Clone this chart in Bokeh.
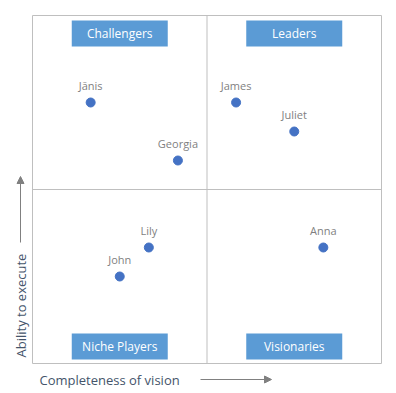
import math
from bokeh.plotting import figure
from bokeh.models import ColumnDataSource, Range1d, Arrow, NormalHead
from bokeh.core.properties import value
from bokeh.embed import file_html
from bokeh.resources import INLINE

# ---- data ----
names = ["Jānis", "James", "Juliet", "Georgia", "Lily", "John", "Anna"]
vision = [2, 7, 9, 5, 4, 3, 10]
execute = [9, 9, 8, 7, 4, 3, 4]
quadrants = ["Challengers", "Leaders", "Niche Players", "Visionaries"]
axis_max = 12
axis_mid = 6
x_title = "Completeness of vision"
y_title = "Ability to execute"

# ---- layout ----
W, H = 396, 393
fl, fr, ft, fb = 32, 381, 15, 363          # quadrant frame in canvas px
sx = (fr - fl) / axis_max
sy = (fb - ft) / axis_max
x0 = -fl / sx
x1 = axis_max + (W - fr) / sx
y0 = -(H - fb) / sy
y1 = axis_max + ft / sy

p = figure(width=W, height=H, output_backend="svg", toolbar_location=None,
           x_range=Range1d(x0, x1), y_range=Range1d(y0, y1),
           min_border=0, x_axis_location=None, y_axis_location=None)
p.outline_line_color = None
p.grid.visible = False
p.background_fill_color = "white"
p.border_fill_color = "white"

FONT = value("Open Sans")
GRID = "#BFBFBF"

# frame and midlines
p.rect(x=[axis_max / 2], y=[axis_max / 2], width=[axis_max], height=[axis_max],
       fill_color=None, line_color=GRID, line_width=1)
p.segment(x0=[axis_mid, 0], y0=[0, axis_mid], x1=[axis_mid, axis_max], y1=[axis_max, axis_mid],
          line_color=GRID, line_width=1)

# quadrant label boxes
q = axis_mid / 2
top_y = axis_max - 18 / sy
bot_y = 17 / sy
qsrc = ColumnDataSource(dict(
    x=[q, axis_mid + q, q, axis_mid + q],
    y=[top_y, top_y, bot_y, bot_y],
    t=quadrants))
p.rect(x="x", y="y", width=96, height=26, width_units="screen", height_units="screen",
       source=qsrc, fill_color="#5B9BD5", line_color=None)
p.text(x="x", y="y", text="t", source=qsrc, text_color="white", text_font=FONT,
       text_font_size="12px", text_align="center", text_baseline="middle")

# points
src = ColumnDataSource(dict(x=vision, y=execute, n=names))
p.scatter(x="x", y="y", source=src, size=9, fill_color="#4472C4", line_color="#4472C4")
p.text(x="x", y="y", text="n", source=src, y_offset=-17, text_color="#7F7F7F",
       text_font=FONT, text_font_size="11px", text_align="center", text_baseline="middle")

# axis titles
xt_y = -(379 - fb) / sy
p.text(x=[(39 - fl) / sx], y=[xt_y], text=[x_title], text_color="#44546A", text_font=FONT,
       text_font_size="13px", text_align="left", text_baseline="middle")
p.add_layout(Arrow(x_start=(200 - fl) / sx, y_start=xt_y, x_end=(271 - fl) / sx, y_end=xt_y,
                   line_color="#808080", line_width=1,
                   end=NormalHead(size=7, fill_color="#808080", line_color="#808080")))

yt_x = (20 - fl) / sx
p.text(x=[yt_x], y=[(fb - 357) / sy], text=[y_title], angle=math.pi / 2,
       text_color="#44546A", text_font=FONT, text_font_size="13px",
       text_align="left", text_baseline="middle")
p.add_layout(Arrow(x_start=yt_x, y_start=(fb - 242) / sy, x_end=yt_x, y_end=(fb - 176) / sy,
                   line_color="#808080", line_width=1,
                   end=NormalHead(size=7, fill_color="#808080", line_color="#808080")))

open("out.html", "w").write(file_html(p, INLINE))
